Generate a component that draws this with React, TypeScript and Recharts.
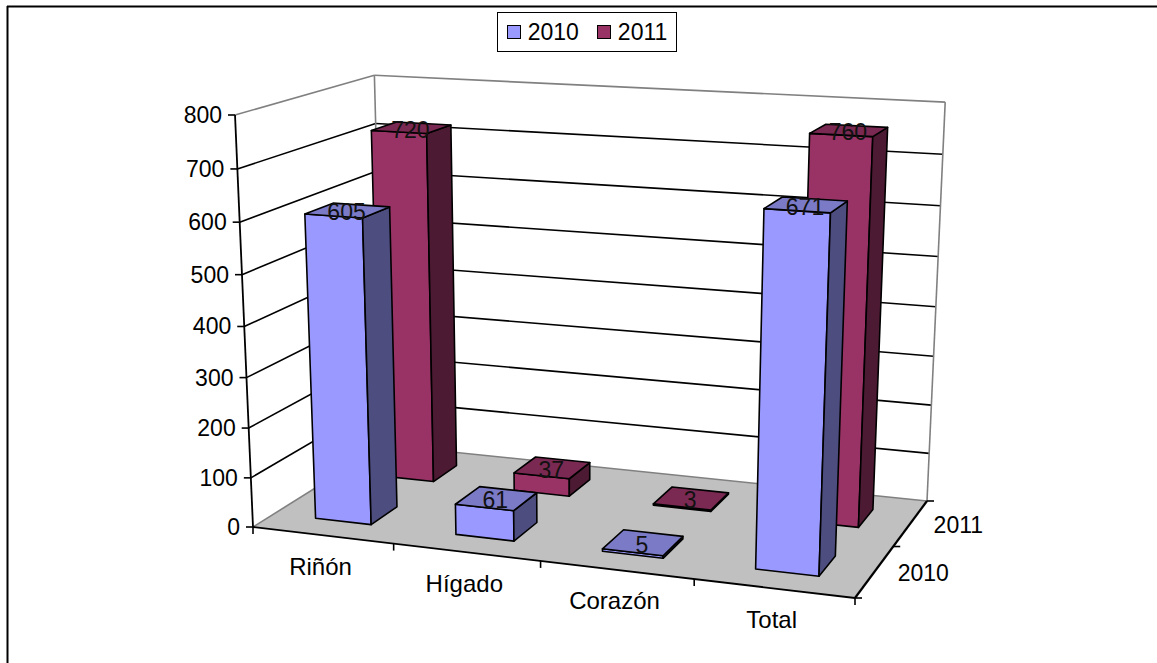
import React from 'react';
import { BarChart, Bar, XAxis, YAxis, Legend } from 'recharts';

const categories = ['Riñón', 'Hígado', 'Corazón', 'Total'];
const values2010 = [605, 61, 5, 671];
const values2011 = [720, 37, 3, 760];
const yTicks = [0, 100, 200, 300, 400, 500, 600, 700, 800];
const seriesNames = ['2010', '2011'];

const data = categories.map((name, i) => ({
  name,
  '2010': values2010[i],
  '2011': values2011[i],
}));

const WIDTH = 1157;
const HEIGHT = 663;
const FONT = '"Liberation Sans", Arial, sans-serif';
const FONT_SIZE = 23;
const LINE = 1.6;

// Corners of the floor on screen, plus the top of the front axis and the
// point where the uprights converge. Everything 3D is derived from these.
const FLOOR = { ax: 253, ay: 527, bx: 855, by: 598, cx: 927, cy: 501, dx: 384, dy: 445 };
const AXIS_TOP_Y = 115;
const VANISH = { x: 582, y: 8063 };

const makeCamera = () => {
  const { ax, ay, bx, by, cx, cy, dx, dy } = FLOOR;
  const dx1 = bx - cx;
  const dx2 = dx - cx;
  const sx = ax - bx + cx - dx;
  const dy1 = by - cy;
  const dy2 = dy - cy;
  const sy = ay - by + cy - dy;
  const det = dx1 * dy2 - dx2 * dy1;
  const g = (sx * dy2 - dx2 * sy) / det;
  const h = (dx1 * sy - sx * dy1) / det;
  return {
    a: bx - ax + g * bx,
    b: dx - ax + h * dx,
    c: ax,
    d: by - ay + g * by,
    e: dy - ay + h * dy,
    f: ay,
    g,
    h,
    k: (AXIS_TOP_Y - ay) / (VANISH.y - AXIS_TOP_Y),
  };
};

const cam = makeCamera();

// u: along the categories, t: height, w: depth; all three run 0..1
const project = (u: number, t: number, w: number) => {
  const z = cam.g * u + cam.h * w + 1 + t * cam.k;
  return {
    x: (cam.a * u + cam.b * w + cam.c + t * cam.k * VANISH.x) / z,
    y: (cam.d * u + cam.e * w + cam.f + t * cam.k * VANISH.y) / z,
  };
};

type Pt = { x: number; y: number };
const toPoints = (pts: Pt[]) => pts.map((p) => `${p.x},${p.y}`).join(' ');

const Seg = ({ from, to, color = '#000', w = LINE }: { from: Pt; to: Pt; color?: string; w?: number }) => (
  <line x1={from.x} y1={from.y} x2={to.x} y2={to.y} stroke={color} strokeWidth={w} />
);

const colors: Record<string, { front: string; side: string; top: string }> = {
  '2010': { front: '#9999FF', side: '#4D4D80', top: '#7A7AC6' },
  '2011': { front: '#993366', side: '#4D1A33', top: '#7A2952' },
};

// Draws one column as a box standing on the floor. The flat rectangle comes
// from the chart's scales and gets pushed through the camera.
const boxShape = (series: string, depthIndex: number) => (props: any) => {
  const { x, width, height, value } = props;
  const u0 = x / WIDTH;
  const u1 = (x + width) / WIDTH;
  const t = height / HEIGHT;
  const w0 = 0.15 + depthIndex * 0.5;
  const w1 = w0 + 0.2;
  const c = colors[series];
  const topFace = [project(u0, t, w0), project(u1, t, w0), project(u1, t, w1), project(u0, t, w1)];
  const front = [project(u0, 0, w0), project(u1, 0, w0), project(u1, t, w0), project(u0, t, w0)];
  const side = [project(u1, 0, w0), project(u1, 0, w1), project(u1, t, w1), project(u1, t, w0)];
  const mid = project((u0 + u1) / 2, t, (w0 + w1) / 2);
  const line = { stroke: '#000', strokeWidth: LINE, strokeLinejoin: 'round' as const };
  return (
    <g>
      <polygon points={toPoints(front)} fill={c.front} {...line} />
      <polygon points={toPoints(side)} fill={c.side} {...line} />
      <polygon points={toPoints(topFace)} fill={c.top} {...line} />
      <text x={mid.x - 1} y={mid.y + 2} textAnchor="middle" dominantBaseline="central" fontFamily={FONT} fontSize={FONT_SIZE} fill="#111">
        {value}
      </text>
    </g>
  );
};

// Walls, floor, gridlines and the depth axis
const Backdrop = () => {
  const A = project(0, 0, 0);
  const B = project(1, 0, 0);
  const C = project(1, 0, 1);
  const D = project(0, 0, 1);
  const E = project(0, 1, 0);
  const F = project(0, 1, 1);
  const G = project(1, 1, 1);
  return (
    <g>
      <line x1={7} y1={6.5} x2={WIDTH} y2={6.5} stroke="#000" strokeWidth={2} />
      <line x1={7.5} y1={6} x2={7.5} y2={HEIGHT} stroke="#000" strokeWidth={2} />
      {yTicks.slice(1, -1).map((v) => {
        const t = v / yTicks[yTicks.length - 1];
        return (
          <g key={v}>
            <Seg from={project(0, t, 0)} to={project(0, t, 1)} />
            <Seg from={project(0, t, 1)} to={project(1, t, 1)} />
          </g>
        );
      })}
      <Seg from={E} to={F} color="#808080" />
      <Seg from={F} to={G} color="#808080" />
      <Seg from={F} to={D} color="#808080" />
      <Seg from={G} to={C} color="#808080" />
      <polygon points={toPoints([A, B, C, D])} fill="#C0C0C0" />
      <Seg from={A} to={D} color="#808080" />
      <Seg from={D} to={C} color="#808080" />
      <Seg from={A} to={B} w={1.8} />
      <Seg from={B} to={C} w={2.2} />
      <Seg from={A} to={E} w={1.8} />
      {categories.map((_, i) => i).concat(categories.length).map((i) => {
        const p = project(i / categories.length, 0, 0);
        return <Seg key={i} from={p} to={{ x: p.x, y: p.y + 7 }} />;
      })}
      {[0, 0.5, 1].map((w) => {
        const p = project(1, 0, w);
        return <Seg key={w} from={p} to={{ x: p.x + 7, y: p.y }} />;
      })}
      {seriesNames.map((name, i) => {
        const p = project(1, 0, 0.25 + i * 0.5);
        return (
          <text key={name} x={p.x + 23} y={p.y + 2} dominantBaseline="central" fontFamily={FONT} fontSize={FONT_SIZE} fill="#000">
            {name}
          </text>
        );
      })}
    </g>
  );
};

const ValueTick = (props: any) => {
  const { y, payload } = props;
  const p = project(0, (HEIGHT - y) / HEIGHT, 0);
  return (
    <g>
      <Seg from={p} to={{ x: p.x - 7, y: p.y }} />
      <text x={p.x - 13} y={p.y} textAnchor="end" dominantBaseline="central" fontFamily={FONT} fontSize={FONT_SIZE} fill="#000">
        {payload.value}
      </text>
    </g>
  );
};

const CategoryTick = (props: any) => {
  const { x, payload } = props;
  const p = project(x / WIDTH, 0, 0);
  return (
    <text x={p.x - 2} y={p.y + 31} textAnchor="middle" dominantBaseline="central" fontFamily={FONT} fontSize={24} fill="#000">
      {payload.value}
    </text>
  );
};

const LegendBox = () => (
  <div
    style={{
      boxSizing: 'border-box',
      width: 180,
      height: 40,
      border: '1.6px solid #000',
      background: '#fff',
      display: 'flex',
      alignItems: 'center',
      justifyContent: 'center',
      gap: 18,
      fontFamily: FONT,
      fontSize: FONT_SIZE,
      color: '#000',
    }}
  >
    {seriesNames.map((name) => (
      <span key={name} style={{ display: 'flex', alignItems: 'center', gap: 7 }}>
        <span style={{ boxSizing: 'border-box', width: 14, height: 14, background: colors[name].front, border: '1.6px solid #000' }} />
        {name}
      </span>
    ))}
  </div>
);

export default function App() {
  return (
    <div style={{ position: 'absolute', left: 0, top: 0, width: WIDTH, height: HEIGHT, overflow: 'hidden', background: '#fff' }}>
      <BarChart width={WIDTH} height={HEIGHT + 1} data={data} margin={{ top: 0, right: 0, bottom: 0, left: -1 }} barCategoryGap="30%">
        <Backdrop />
        <XAxis xAxisId="back" dataKey="name" hide />
        <XAxis xAxisId="front" dataKey="name" height={1} axisLine={false} tickLine={false} interval={0} tick={CategoryTick} />
        <YAxis width={1} domain={[0, 800]} ticks={yTicks} interval={0} axisLine={false} tickLine={false} tick={ValueTick} />
        <Legend
          verticalAlign="middle"
          align="center"
          content={LegendBox}
          wrapperStyle={{ left: 497, top: 12, width: 180, height: 40, bottom: 'auto', right: 'auto' }}
        />
        <Bar xAxisId="back" dataKey="2011" isAnimationActive={false} shape={boxShape('2011', 1)} />
        <Bar xAxisId="front" dataKey="2010" isAnimationActive={false} shape={boxShape('2010', 0)} />
      </BarChart>
    </div>
  );
}
